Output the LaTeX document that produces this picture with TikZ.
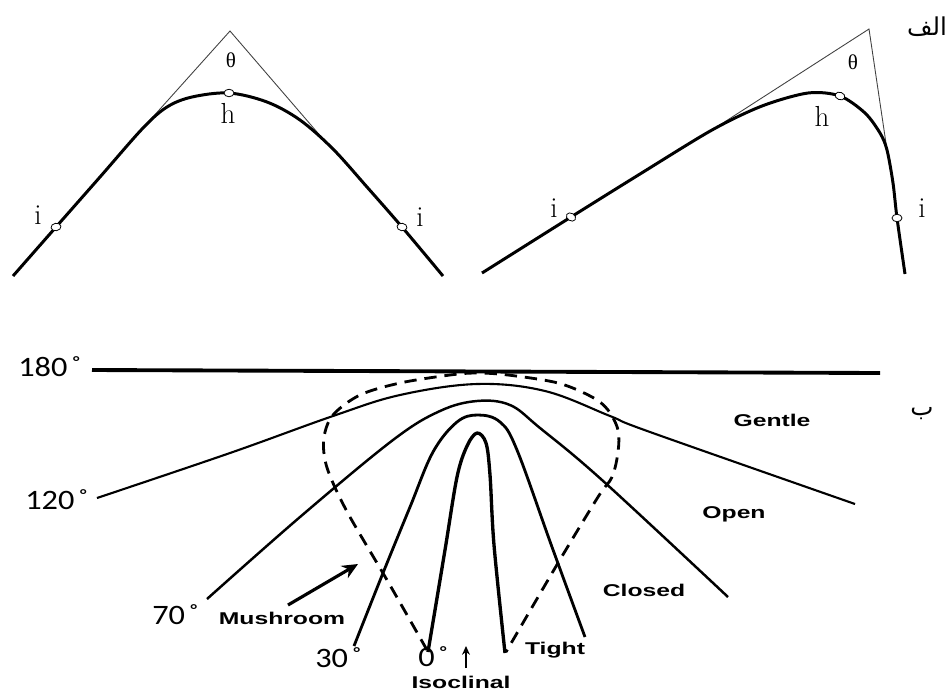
\documentclass[tikz,border=0pt]{standalone}
\usepackage{fontspec}
\usetikzlibrary{arrows.meta,shapes.geometric}
\newfontfamily\grk{Liberation Serif}
\newfontfamily\degf[FakeStretch=1.15]{Carlito}
\newfontfamily\lblf[FakeStretch=1.45]{Liberation Sans}
\newfontfamily\arabicfont[Script=Arabic]{DejaVu Sans}
\TeXXeTstate=1
\begin{document}
\begin{tikzpicture}[x=0.02cm,y=-0.02cm,
  thickc/.style={line width=1.7pt, line join=round},
  thinl/.style={line width=0.5pt, black!75},
  pt/.style={ellipse, draw, fill=white, line width=0.45pt, minimum width=0.2cm, minimum height=0.15cm, inner sep=0pt},
  serl/.style={font=\fontsize{16.5}{16.5}\selectfont, inner sep=0pt},
  thl/.style={font=\grk\fontsize{12}{12}\selectfont, inner sep=0pt},
  degl/.style={font=\degf\fontsize{16}{16}\selectfont, inner sep=0pt},
  cls/.style={font=\lblf\bfseries\fontsize{9.7}{10}\selectfont, inner sep=0pt},
  arl/.style={font=\arabicfont\fontsize{14}{14}\selectfont, inner sep=0pt},
  hline/.style={line width=2.2pt},
  gentle/.style={line width=1.2pt},
  open/.style={line width=1.4pt},
  closed/.style={line width=1.6pt},
  iso/.style={line width=1.9pt, line join=round},
  mush/.style={line width=1.6pt, dash pattern=on 7pt off 4.5pt}
]
\useasboundingbox (0,0) rectangle (950,691);

% ---------- part a, left ----------
\coordinate (La) at (230,31);
\coordinate (Lt1) at (143,128);
\coordinate (Lt2) at (323,139);
\draw[thinl] (Lt1) -- (La) -- (Lt2);
\draw[thickc] plot[smooth, tension=0.55] coordinates {(13,276) (56,227) (100,177) (143,128) (167,107) (192,97) (229,93) (267,102) (300,120) (333,149) (367,187) (402,227) (443,276)};
\node[pt, rotate=10] (Li1) at (56,227) {};
\node[pt] (Lh) at (229,93) {};
\node[pt, rotate=-10] (Li2) at (402,227) {};
\node[thl] (Lth) at (231,60) {θ};
\node[serl] (Lhl) at (228,113) {h};
\node[serl] (Lil1) at (38,215) {i};
\node[serl] (Lil2) at (420,217) {i};

% ---------- part a, right ----------
\coordinate (Ra) at (869,29);
\coordinate (Rt1) at (712,130);
\coordinate (Rt2) at (887,150);
\draw[thinl] (Rt1) -- (Ra) -- (Rt2);
\draw[thickc] plot[smooth, tension=0.5] coordinates {(482,273) (571,217) (640,174) (712,130) (762,106) (808,93) (840,96) (865,113) (880,133) (887,150) (893,183) (897,218) (905,274)};
\node[pt, rotate=-32] (Ri1) at (571,217) {};
\node[pt, rotate=-20] (Rh) at (840,96) {};
\node[pt] (Ri2) at (897,218) {};
\node[thl] (Rth) at (853,62) {θ};
\node[serl] (Rhl) at (822,116) {h};
\node[serl] (Ril1) at (554,208) {i};
\node[serl] (Ril2) at (922,208) {i};
\node[arl] (alef) at (927,27) {\beginR الف\endR};

% ---------- part b ----------
\node[arl] (be) at (922,414) {\beginR ب\endR};
\coordinate (h1) at (92,370);
\coordinate (h2) at (880,373);
\draw[hline] (h1) -- (h2);

\draw[gentle] plot[smooth, tension=0.6] coordinates {(97,498) (230,453) (333,416) (400,395) (477,384) (545,391) (610,416) (650,432) (855,504)};
\draw[open] plot[smooth, tension=0.6] coordinates {(207,599) (300,517) (393,440) (440,411) (477,401) (510,405) (540,428) (602,480) (728,597)};
\draw[closed] plot[smooth, tension=0.6] coordinates {(354,646) (383,573) (410,507) (433,452) (457,422) (478,415) (500,422) (517,450) (552,547) (585,637)};
\draw[iso] plot[smooth, tension=0.55] coordinates {(428,652) (445,550) (457,477) (467,446) (477,433) (486,443) (490,475) (494,545) (505,653)};
\draw[mush] plot[smooth, tension=0.55] coordinates {(427,650) (387,580) (350,517) (333,483) (325,460) (324,437) (333,415) (360,395) (400,383) (450,375) (477,373) (508,375) (558,383) (592,397) (608,410) (618,430) (618,452) (612,477) (598,497) (558,563) (506,652)};

\node[degl, anchor=west] (d180) at (18,367) {180\kern2pt˚};
\node[degl, anchor=west] (d120) at (25,500) {120\kern2pt˚};
\node[degl, anchor=west] (d70) at (152,615) {70\kern2pt˚};
\node[degl, anchor=west] (d30) at (315,658) {30\kern2pt˚};
\node[degl, anchor=west] (d0) at (418,657) {0\kern2pt˚};

\node[cls] (gentle) at (772,420) {Gentle};
\node[cls] (openl) at (734,514) {Open};
\node[cls] (closedl) at (644,590) {Closed};
\node[cls] (tight) at (555,650) {Tight};
\node[cls] (mushl) at (282,618) {Mushroom};
\node[cls] (isol) at (461,682) {Isoclinal};

\coordinate (mA) at (288,605);
\coordinate (mB) at (358,564);
\draw[line width=1.8pt, -{Stealth[length=9pt,width=8pt]}] (mA) -- (mB);
\coordinate (iA) at (466,668);
\coordinate (iB) at (466,646);
\draw[line width=1.2pt, -{Stealth[length=5pt,width=4.5pt]}] (iA) -- (iB);
\end{tikzpicture}
\end{document}
